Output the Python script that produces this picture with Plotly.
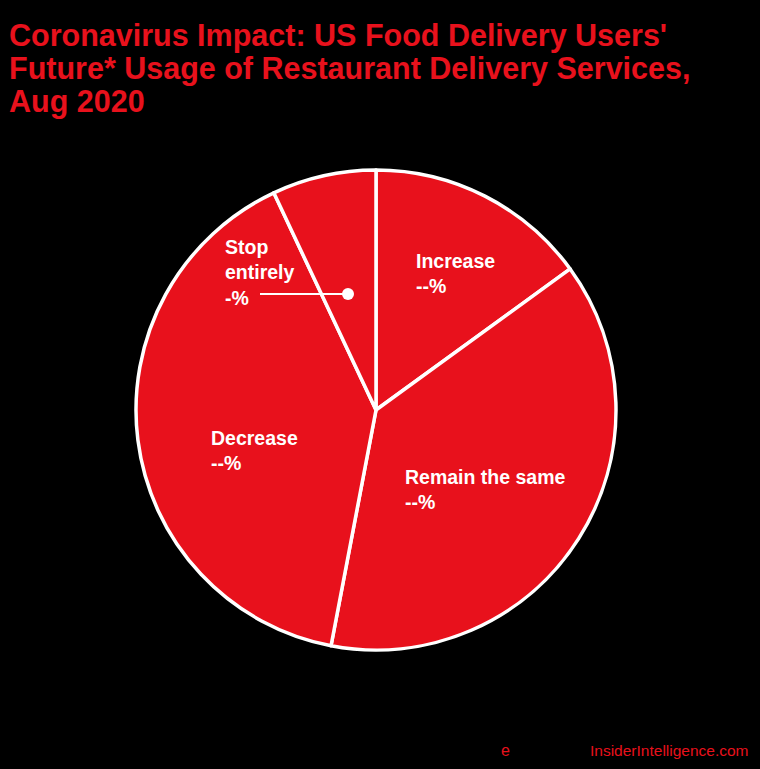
import plotly.graph_objects as go

categories = ["Increase", "Remain the same", "Decrease", "Stop entirely"]
values = [15, 38, 40, 7]
label_texts = ["Increase<br>--%", "Remain the same<br>--%", "Decrease<br>--%", "Stop<br>entirely<br>-%"]
title_lines = [
    "Coronavirus Impact: US Food Delivery Users'",
    "Future* Usage of Restaurant Delivery Services,",
    "Aug 2020",
]

RED = "#E8111C"
W, H = 760, 769
FONT = "Liberation Sans"

fig = go.Figure(go.Pie(
    labels=categories,
    values=values,
    sort=False,
    direction="clockwise",
    rotation=0,
    textinfo="none",
    hoverinfo="label+percent",
    marker=dict(colors=[RED] * len(values), line=dict(color="white", width=3.5)),
    domain=dict(x=[136 / W, 616 / W], y=[(H - 650) / H, (H - 170) / H]),
    showlegend=False,
))

# label positions (pixels from top-left)
label_pos = [(414, 274), (403, 489), (209, 450), (223, 272)]
annotations = []
for txt, (px, py) in zip(label_texts, label_pos):
    annotations.append(dict(
        x=px / W, y=1 - py / H, xref="paper", yref="paper",
        text="<b>" + txt + "</b>", showarrow=False, xanchor="left", yanchor="middle", align="left",
        font=dict(family=FONT, size=19.5, color="white"),
    ))

for i, line in enumerate(title_lines):
    annotations.append(dict(
        x=7 / W, y=1 - (35 + 33.5 * i) / H, xref="paper", yref="paper", xanchor="left", yanchor="middle",
        text="<b>" + line + "</b>", showarrow=False, align="left",
        font=dict(family=FONT, size=30.5, color=RED),
    ))

annotations.append(dict(
    x=499 / W, y=1 - 750 / H, xref="paper", yref="paper", xanchor="left", yanchor="middle",
    text="e", showarrow=False, font=dict(family=FONT, size=16, color=RED),
))
annotations.append(dict(
    x=751 / W, y=1 - 750 / H, xref="paper", yref="paper", xanchor="right", yanchor="middle",
    text="InsiderIntelligence.com", showarrow=False, font=dict(family=FONT, size=15.5, color=RED),
))

shapes = [
    dict(type="line", xref="paper", yref="paper", x0=260 / W, x1=348 / W, y0=1 - 294 / H, y1=1 - 294 / H,
         line=dict(color="white", width=2)),
    dict(type="circle", xref="paper", yref="paper", x0=342 / W, x1=354 / W, y0=1 - 300 / H, y1=1 - 288 / H,
         fillcolor="white", line=dict(color="white", width=0)),
]

fig.update_layout(
    width=W, height=H,
    margin=dict(l=0, r=0, t=0, b=0),
    paper_bgcolor="black", plot_bgcolor="black",
    annotations=annotations, shapes=shapes,
)

fig.write_html(
    "out.html",
    config={"displayModeBar": False},
    post_script="document.body.style.margin='0';document.body.style.background='black';",
)
